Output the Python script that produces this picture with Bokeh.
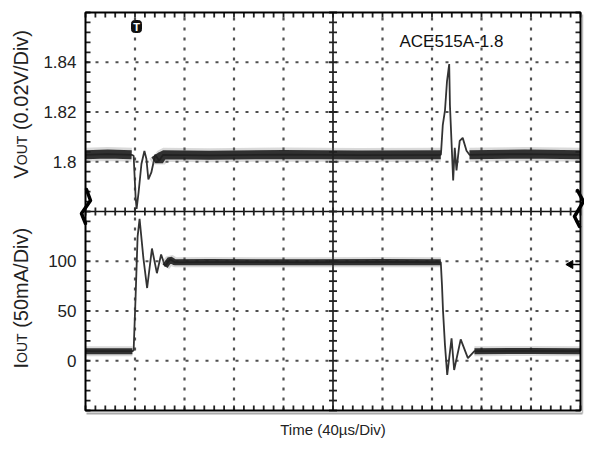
import numpy as np
from bokeh.plotting import figure
from bokeh.models import Range1d
from bokeh.embed import file_html
from bokeh.resources import INLINE
from bokeh.core.properties import value

# ---------------- data ----------------
# time in microseconds (40 us/div), VOUT in volts, IOUT in mA
time_v = [0, 18, 37.3, 38.9, 40.5, 41.3, 42.9, 45.2, 47.6, 49.2,
          50.8, 53.2, 56.3, 59.5, 62.7, 100, 160, 220, 287.1, 287.3,
          288.7, 290.5, 292.1, 293.9, 294.5, 297.1, 298.4, 299.8, 302.4, 304.8,
          307.9, 310.3, 355, 400]
vout = [1.8028, 1.8031, 1.8028, 1.8024, 1.7857, 1.7810, 1.7877, 1.7991, 1.8043, 1.8012,
        1.7929, 1.7957, 1.8028, 1.8004, 1.8028, 1.8026, 1.8029, 1.8027, 1.8028, 1.8036,
        1.8147, 1.8207, 1.8322, 1.8393, 1.8227, 1.7925, 1.8056, 1.7965, 1.8084, 1.8096,
        1.8044, 1.8028, 1.8031, 1.8028]
v_steady = [(0, 37.3), (56.3, 287.1), (310.3, 400)]

time_i = [0, 37.9, 38.9, 40.5, 42.1, 43.7, 46.8, 49.8, 53.7, 57.7,
          61.1, 64.3, 68.3, 72.2, 100, 180, 240, 287.1, 288.1, 288.9,
          290.5, 292.3, 295.8, 297.9, 303.2, 309.0, 314.3, 360, 400]
iout = [9.6, 9.6, 10.5, 65.1, 124.7, 142.6, 102.9, 73.1, 112.8, 88.0,
        106.8, 94.9, 101.9, 98.9, 99.2, 98.9, 99.3, 99.0, 75.1, 50.3,
        15.5, -14.3, 22.5, -9.3, 21.5, 2.6, 9.6, 9.9, 9.6]
i_steady = [(0, 37.9), (64.3, 287.1), (314.3, 400)]

v_tick_values = [1.80, 1.82, 1.84]
v_tick_labels = ["1.8", "1.82", "1.84"]
i_tick_values = [0, 50, 100]
i_tick_labels = ["0", "50", "100"]

# scope scales
N_XDIV, N_YDIV = 10, 8
US_PER_DIV = 40
V_PER_DIV, V_AT_DIV0 = 0.02, 1.70
MA_PER_DIV, MA_AT_DIV0 = 50, -50

FONT = "Liberation Sans"
W_FIG, H_FIG = 584, 443               # canvas
GL, GR, GT, GB = 85, 580, 12, 410     # graticule box in canvas pixels
X_MAX = N_XDIV * US_PER_DIV
KX = X_MAX / (GR - GL)                # us per pixel
KY = N_YDIV / (GB - GT)               # div per pixel

def xd(px):   # canvas px -> x data
    return (px - GL) * KX

def yd(py):   # canvas px -> y (divisions)
    return (GB - py) * KY

p = figure(width=W_FIG, height=H_FIG, min_border=0,
           x_range=Range1d(xd(0), xd(W_FIG)), y_range=Range1d(yd(H_FIG), yd(0)),
           x_axis_location=None, y_axis_location=None,
           output_backend="svg", toolbar_location=None,
           background_fill_color="white", border_fill_color="white")
p.outline_line_color = None
p.grid.visible = False
y0, y1 = yd(H_FIG), yd(0)
p.extra_y_ranges = {
    "volt": Range1d(V_AT_DIV0 + y0 * V_PER_DIV, V_AT_DIV0 + y1 * V_PER_DIV),
    "amp": Range1d(MA_AT_DIV0 + y0 * MA_PER_DIV, MA_AT_DIV0 + y1 * MA_PER_DIV),
}

# dotted graticule
div_x = [k * US_PER_DIV for k in range(1, N_XDIV) if k != N_XDIV // 2]
div_y = [k for k in range(1, N_YDIV) if k != N_YDIV // 2]
dot = dict(line_color="#505050", line_width=2.2, line_dash="3 7")
p.segment(div_x, 0, div_x, N_YDIV, **dot)
p.segment(0, div_y, X_MAX, div_y, **dot)

# centre cross lines
p.segment([X_MAX / 2], [0], [X_MAX / 2], [N_YDIV], line_color="#111", line_width=1.6)
p.segment([0], [N_YDIV / 2], [X_MAX], [N_YDIV / 2], line_color="#111", line_width=1.6)

# graticule tick marks (every 1/5 division)
xt = np.arange(0, X_MAX + 1e-6, US_PER_DIV / 5)
yt = np.arange(0, N_YDIV + 1e-6, 0.2)
tk = dict(line_color="#222", line_width=1.8)
L_EDGE, L_CEN = 5, 4
p.segment(xt, 0, xt, L_EDGE * KY, **tk)
p.segment(xt, N_YDIV, xt, N_YDIV - L_EDGE * KY, **tk)
p.segment(0, yt, L_EDGE * KX, yt, **tk)
p.segment(X_MAX, yt, X_MAX - L_EDGE * KX, yt, **tk)
p.segment(xt, N_YDIV / 2 - L_CEN * KY, xt, N_YDIV / 2 + L_CEN * KY, **tk)
p.segment(X_MAX / 2 - L_CEN * KX, yt, X_MAX / 2 + L_CEN * KX, yt, **tk)

# traces
def spans(t, y, sp):
    t = np.asarray(t, float); y = np.asarray(y, float)
    out = []
    for a, b in sp:
        m = (t >= a) & (t <= b)
        out.append((t[m], y[m]))
    return out

p.line(time_v, vout, y_range_name="volt", line_color="#333", line_width=1.8)
for ts, ys in spans(time_v, vout, v_steady):
    p.line(ts, ys, y_range_name="volt", line_color="#666", line_width=14, line_alpha=0.25)
    p.line(ts, ys, y_range_name="volt", line_color="#1e1e1e", line_width=9, line_alpha=0.9)

p.line(time_i, iout, y_range_name="amp", line_color="#333", line_width=1.8)
for ts, ys in spans(time_i, iout, i_steady):
    p.line(ts, ys, y_range_name="amp", line_color="#666", line_width=10, line_alpha=0.25)
    p.line(ts, ys, y_range_name="amp", line_color="#1e1e1e", line_width=6, line_alpha=0.9)

# graticule border with its grey shadow
p.segment([xd(GL + 1)], [yd(GB + 3)], [xd(GR + 2)], [yd(GB + 3)], line_color="#aaa", line_width=2)
p.segment([xd(GR + 2)], [yd(GB + 3)], [xd(GR + 2)], [yd(GT + 2)], line_color="#bbb", line_width=1.5)
p.quad(left=0, right=X_MAX, bottom=0, top=N_YDIV, fill_color=None,
       line_color="black", line_width=2)

# tick labels (two scales sharing the left edge)
v_pos = [(v - V_AT_DIV0) / V_PER_DIV for v in v_tick_values]
i_pos = [(i - MA_AT_DIV0) / MA_PER_DIV for i in i_tick_values]
p.text(x=[xd(GL - 9)] * 6, y=i_pos + v_pos, text=i_tick_labels + v_tick_labels,
       text_font=value(FONT), text_font_size="17px", text_color="#222",
       text_align="right", text_baseline="middle")

# x title
p.text(x=[X_MAX / 2], y=[yd(429)], text=["Time (40\u00b5s/Div)"],
       text_font=value(FONT), text_font_size="15px", text_color="#222",
       text_align="center", text_baseline="alphabetic")

# rotated y titles with subscripts
W = {'V': .667, 'O': .778, 'U': .722, 'T': .611, ' ': .278, '(': .333, ')': .333, '0': .556,
     '.': .278, '2': .556, '/': .278, 'D': .722, 'i': .222, 'v': .5, 'I': .278, '5': .556,
     'm': .833, 'A': .667}

def tw(s, size):
    return sum(W[c] for c in s) * size

def rotated_title(parts, base_px, bottom_px):
    y_px = bottom_px
    for text, size, drop in parts:
        lead = len(text) - len(text.lstrip())
        y_px -= tw(text[:lead], size)
        body = text.lstrip()
        p.text(x=[xd(base_px + drop)], y=[yd(y_px)], text=[body], angle=np.pi / 2,
               text_font=value(FONT), text_font_size=f"{size}px", text_color="#222",
               text_align="left", text_baseline="alphabetic")
        y_px -= tw(body, size)

rotated_title([("V", 20, 0), ("OUT", 14, 1.5), (" (0.02V/Div)", 20, 0)], 20, 178)
rotated_title([("I", 20, 0), ("OUT", 14, 1.5), (" (50mA/Div)", 20, 0)], 20, 368)

# annotation text
p.text(x=[xd(399)], y=[yd(41)], text=["ACE515A-1.8"], text_font=value(FONT),
       text_font_size="17px", text_color="#111", text_align="left", text_baseline="middle")

# trigger marker
p.rect(x=[xd(GL + 51)], y=[yd(GT + 14)], width=10 * KX, height=12 * KY, fill_color="#111",
       line_color="#111", border_radius=3)
p.text(x=[xd(GL + 51)], y=[yd(GT + 14)], text=["T"], text_font=value(FONT), text_font_size="11px",
       text_font_style="bold", text_color="white", text_align="center", text_baseline="middle")

# channel ground markers (zig-zag) on the edges
def zigzag(pts_px):
    p.line([xd(x) for x, _ in pts_px], [yd(y) for _, y in pts_px],
           line_color="black", line_width=3.5, line_join="round", line_cap="round")

zigzag([(GL + 1, GT + 177), (GL + 5, GT + 188), (GL - 4, GT + 201), (GL, GT + 211)])
zigzag([(GR - 3, GT + 178), (GR + 3, GT + 189), (GR - 6, GT + 204), (GR - 1, GT + 214)])

# current reference arrow on the right edge
p.scatter([xd(GR - 10)], [yd(GT + 252)], marker="triangle", angle=np.pi / 2,
          size=8, fill_color="black", line_color="black")
p.segment([xd(GR - 10)], [yd(GT + 252)], [X_MAX], [yd(GT + 252)],
          line_color="black", line_width=1.5)

open("out.html", "w").write(file_html(p, INLINE))
